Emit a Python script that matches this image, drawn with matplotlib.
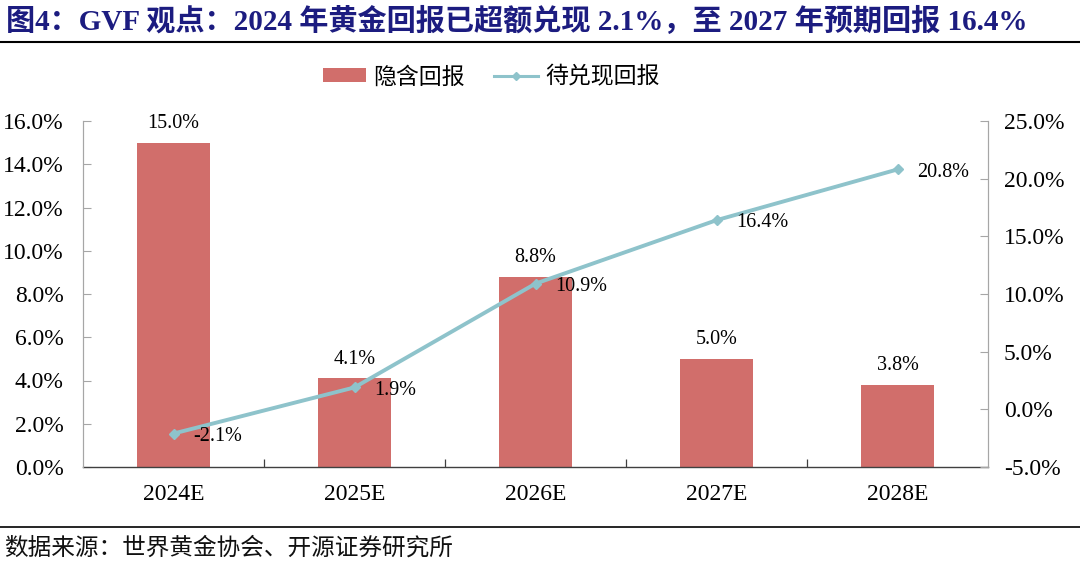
import matplotlib
matplotlib.use("Agg")
import matplotlib.pyplot as plt
import numpy as np
from matplotlib.ticker import FuncFormatter, FixedLocator
from matplotlib.lines import Line2D
from matplotlib.patches import Patch

categories = ["2024E", "2025E", "2026E", "2027E", "2028E"]
implied_return = [15.0, 4.1, 8.8, 5.0, 3.8]
pending_return = [-2.1, 1.9, 10.9, 16.4, 20.8]
left_ticks = [0, 2, 4, 6, 8, 10, 12, 14, 16]
right_ticks = [-5, 0, 5, 10, 15, 20, 25]

title = "图4：GVF 观点：2024 年黄金回报已超额兑现 2.1%，至 2027 年预期回报 16.4%"
source = "数据来源：世界黄金协会、开源证券研究所"
legend_labels = ["隐含回报", "待兑现回报"]

FAM = ["Liberation Serif", "Noto Sans CJK SC"]
plt.rcParams["font.family"] = FAM

bar_color = "#D16E6B"
line_color = "#8EC3CB"
axis_gray = "#A6A6A6"

fig = plt.figure(figsize=(10.8, 5.65), dpi=100)
ax = fig.add_axes([83 / 1080, 1 - 467 / 565, (988 - 83) / 1080, (467 - 121) / 565])
ax2 = ax.twinx()

x = np.arange(len(categories))
ax.bar(x, implied_return, width=0.4, color=bar_color, zorder=2)
ax.set_xlim(-0.5, len(categories) - 0.5)
ax.set_ylim(0, 16)
ax.yaxis.set_major_locator(FixedLocator(left_ticks))
ax.yaxis.set_major_formatter(FuncFormatter(lambda v, p: f"{v:.1f}%"))
ax.set_xticks(x)
ax.set_xticklabels(categories)
ax.xaxis.set_minor_locator(FixedLocator(np.arange(0.5, len(categories) - 0.5, 1)))
ax.tick_params(axis="x", which="major", length=0, pad=12, labelsize=17)
ax.tick_params(axis="x", which="minor", length=6, direction="in", color="#404040", width=0.9)
ax.tick_params(axis="y", direction="in", length=6, color=axis_gray, labelsize=17, pad=14)

for i, v in enumerate(implied_return):
    ax.annotate(f"{v:.1f}%", (x[i], v), xytext=(0, 7), textcoords="offset points",
                ha="center", va="bottom", fontsize=14.5)

ax2.plot(x, pending_return, color=line_color, lw=2.8, marker="D", ms=5.5, zorder=3)
ax2.set_ylim(-5, 25)
ax2.yaxis.set_major_locator(FixedLocator(right_ticks))
ax2.yaxis.set_major_formatter(FuncFormatter(lambda v, p: f"{v:.1f}%"))
ax2.tick_params(axis="y", direction="in", length=6, color=axis_gray, labelsize=17, pad=11.5)
for i, v in enumerate(pending_return):
    ax2.annotate(f"{v:.1f}%", (x[i], v), xytext=(14, -2), textcoords="offset points",
                 ha="left", va="center", fontsize=14.5)

for a in (ax, ax2):
    a.spines["top"].set_visible(False)
    a.spines["left"].set_color(axis_gray)
    a.spines["right"].set_color(axis_gray)
    a.spines["bottom"].set_color("#404040")
    a.spines["bottom"].set_linewidth(1.0)
ax2.spines["bottom"].set_visible(False)

handles = [Patch(facecolor=bar_color, edgecolor="none"),
           Line2D([0], [0], color=line_color, lw=2.2, marker="D", ms=4.5)]
fig.legend(handles, legend_labels, loc="center", bbox_to_anchor=(491 / 1080, 1 - 77 / 565),
           ncol=2, frameon=False, prop={"family": ["Noto Sans CJK SC"], "size": 16.5},
           handlelength=1.9, handleheight=0.55, columnspacing=1.3, handletextpad=0.3)

fig.text(6 / 1080, 1 - 21 / 565, title, fontsize=21, fontweight="bold", color="#1C1C80",
         ha="left", va="center")
fig.add_artist(Line2D([0, 1], [1 - 42 / 565, 1 - 42 / 565], color="black", lw=1.5,
                      transform=fig.transFigure))
fig.add_artist(Line2D([0, 1], [1 - 527 / 565, 1 - 527 / 565], color="black", lw=1.2,
                      transform=fig.transFigure))
fig.text(4 / 1080, 1 - 548 / 565, source, fontsize=17, ha="left", va="center",
         family=["Noto Sans CJK SC"], color="#111111")

fig.savefig("out.png", dpi=100)
